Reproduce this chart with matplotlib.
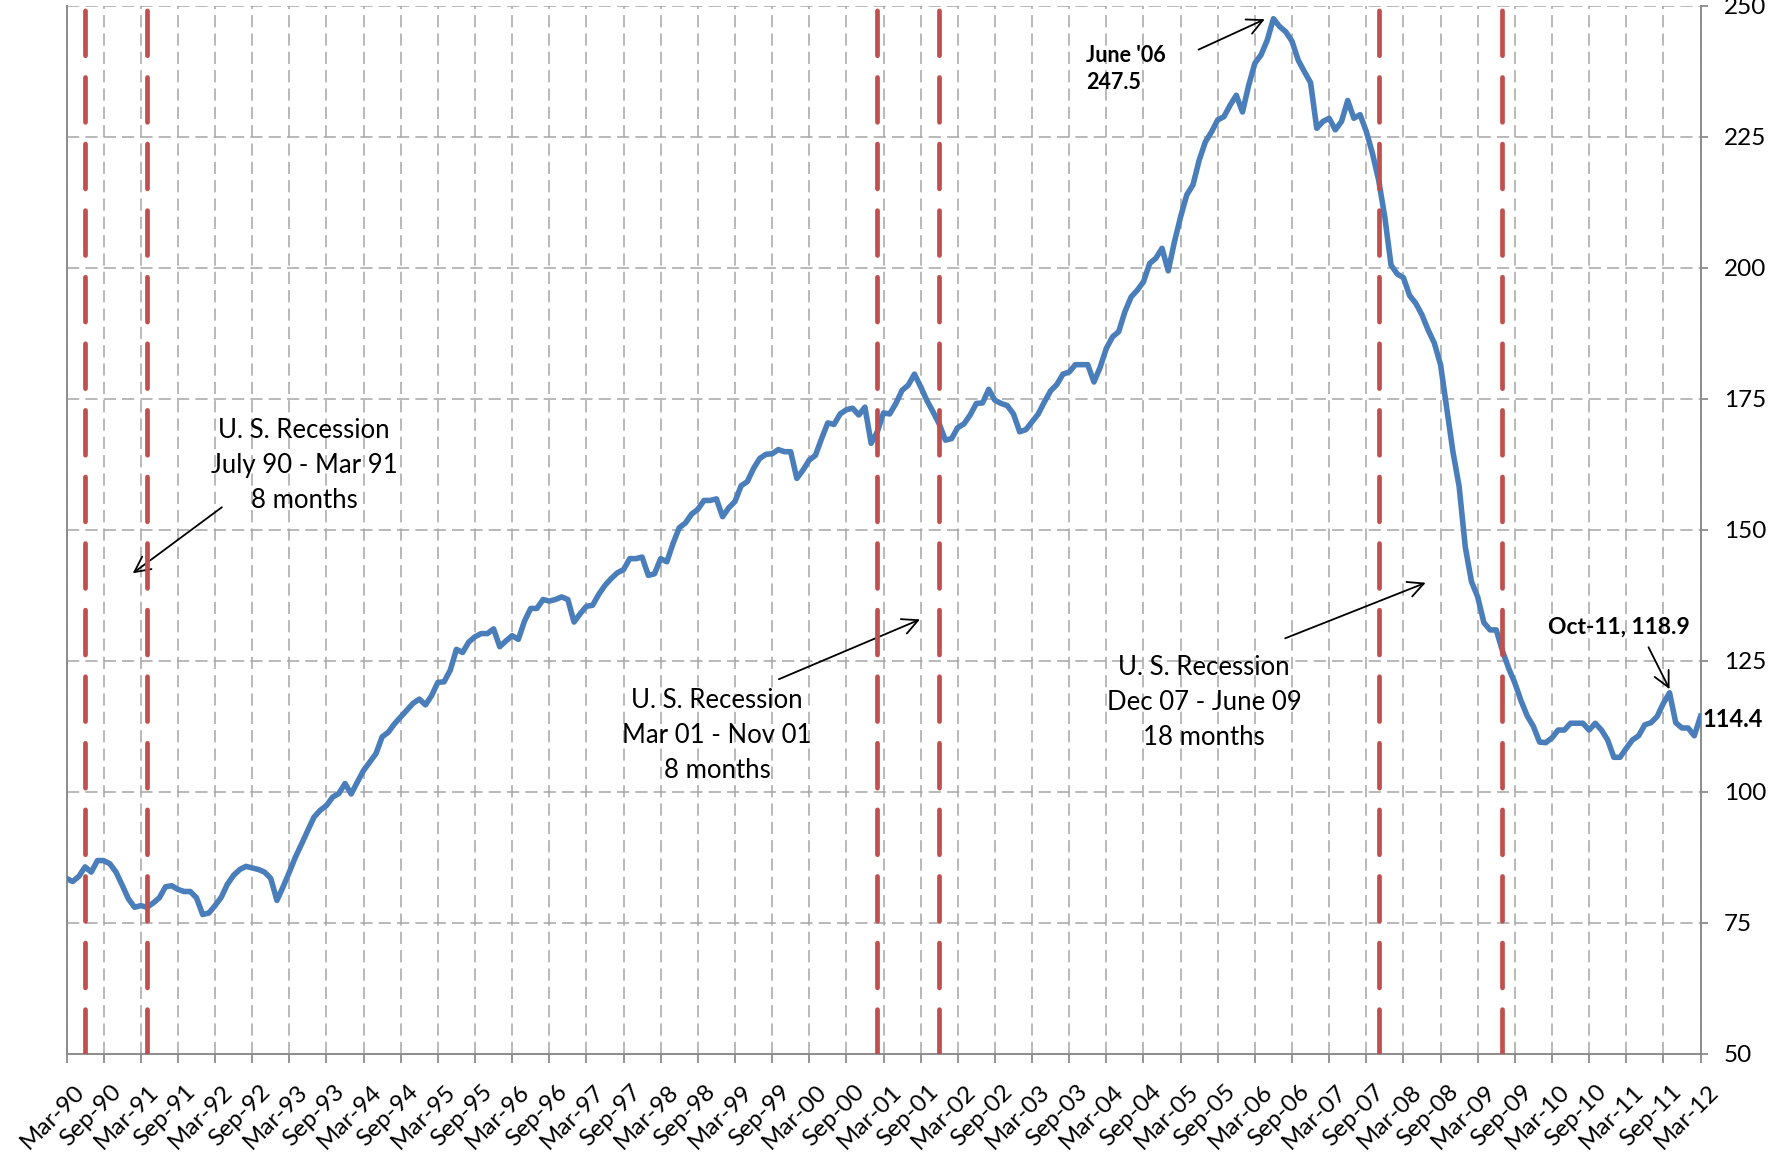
import numpy as np
import pandas as pd
import matplotlib
matplotlib.use("Agg")
import matplotlib.pyplot as plt
from matplotlib.transforms import ScaledTranslation

# monthly index, Mar-90 .. Mar-12
first_month = "1990-03-01"
index_values = [
    83.5, 82.9, 83.9, 85.7, 84.7, 86.9, 86.9, 86.3, 84.7, 82.2,
    79.6, 78.0, 78.3, 78.0, 78.8, 79.8, 81.9, 82.1, 81.4, 81.0,
    81.0, 79.8, 76.6, 76.9, 78.3, 79.9, 82.4, 84.1, 85.2, 85.8,
    85.5, 85.2, 84.7, 83.5, 79.3, 81.9, 84.7, 87.6, 90.1, 92.7,
    95.2, 96.5, 97.4, 99.0, 99.7, 101.6, 99.6, 101.9, 104.1, 105.7,
    107.3, 110.5, 111.4, 113.0, 114.3, 115.6, 116.9, 117.7, 116.6, 118.4,
    120.9, 121.0, 123.2, 127.2, 126.6, 128.6, 129.6, 130.2, 130.2, 131.1,
    127.7, 128.8, 129.8, 129.1, 132.6, 135.0, 135.0, 136.7, 136.4, 136.7,
    137.2, 136.7, 132.4, 134.0, 135.4, 135.6, 137.7, 139.4, 140.7, 141.8,
    142.4, 144.5, 144.5, 144.8, 141.3, 141.6, 144.5, 143.9, 147.4, 150.4,
    151.3, 153.0, 153.9, 155.6, 155.6, 155.9, 152.5, 154.2, 155.4, 158.4,
    159.2, 161.7, 163.6, 164.4, 164.5, 165.3, 164.9, 164.9, 159.8, 161.4,
    163.3, 164.2, 167.4, 170.4, 170.1, 172.1, 172.9, 173.2, 171.9, 173.4,
    166.5, 168.7, 172.3, 172.1, 174.1, 176.6, 177.6, 179.7, 177.3, 174.7,
    172.5, 170.2, 167.1, 167.4, 169.5, 170.2, 171.9, 174.1, 174.2, 176.8,
    174.7, 174.1, 173.7, 172.1, 168.7, 169.1, 170.6, 172.1, 174.4, 176.5,
    177.7, 179.7, 180.1, 181.5, 181.5, 181.5, 178.2, 181.0, 184.6, 186.8,
    187.8, 191.6, 194.4, 195.7, 197.3, 200.8, 201.8, 203.7, 199.4, 204.9,
    209.7, 213.9, 215.8, 220.5, 224.0, 225.9, 228.2, 228.8, 231.0, 232.9,
    229.7, 234.8, 239.0, 240.6, 243.4, 247.5, 246.0, 245.0, 243.2, 239.6,
    237.4, 235.3, 226.6, 227.9, 228.5, 226.3, 227.9, 231.9, 228.5, 229.2,
    226.0, 221.8, 216.7, 209.6, 200.5, 198.8, 198.1, 194.7, 193.2, 191.0,
    188.1, 185.6, 181.5, 173.2, 164.9, 158.3, 146.7, 140.1, 137.2, 132.3,
    130.9, 130.9, 126.9, 123.6, 120.8, 117.4, 114.5, 112.5, 109.5, 109.4,
    110.3, 111.8, 111.8, 113.1, 113.1, 113.1, 111.8, 113.1, 111.8, 109.9,
    106.6, 106.6, 108.3, 109.9, 110.7, 112.8, 113.2, 114.4, 116.9, 118.9,
    113.2, 112.2, 112.2, 110.7, 114.4,
]

tick_labels = [
    "Mar-90", "Sep-90", "Mar-91", "Sep-91", "Mar-92", "Sep-92", "Mar-93", "Sep-93",
    "Mar-94", "Sep-94", "Mar-95", "Sep-95", "Mar-96", "Sep-96", "Mar-97", "Sep-97",
    "Mar-98", "Sep-98", "Mar-99", "Sep-99", "Mar-00", "Sep-00", "Mar-01", "Sep-01",
    "Mar-02", "Sep-02", "Mar-03", "Sep-03", "Mar-04", "Sep-04", "Mar-05", "Sep-05",
    "Mar-06", "Sep-06", "Mar-07", "Sep-07", "Mar-08", "Sep-08", "Mar-09", "Sep-09",
    "Mar-10", "Sep-10", "Mar-11", "Sep-11", "Mar-12",
]
y_ticks = [50, 75, 100, 125, 150, 175, 200, 225, 250]

# dashed red recession markers (as drawn on the chart)
recession_lines = ["Jun-90", "Apr-91", "Feb-01", "Dec-01", "Nov-07", "Jul-09"]

recession_notes = [
    "U. S. Recession\nJuly 90 - Mar 91\n8 months",
    "U. S. Recession\nMar 01 - Nov 01\n8 months",
    "U. S. Recession\nDec 07 - June 09\n18 months",
]
peak_note = "June '06\n247.5"
oct11_note = "Oct-11, 118.9"
last_note = "114.4"

months = pd.date_range(first_month, periods=len(index_values), freq="MS").strftime("%b-%y").tolist()
x = np.arange(len(index_values))

plt.rcParams["font.family"] = ["Lato", "DejaVu Sans"]

W, H = 1768, 1159
fig = plt.figure(figsize=(W / 100, H / 100), dpi=100)
ax = fig.add_axes([66.5 / W, 1 - 1054 / H, (1700.5 - 66.5) / W, (1054 - 5.6) / H])

ax.plot(x, index_values, color="#4A7EBB", lw=4, solid_joinstyle="round", zorder=3)

for m in recession_lines:
    ax.axvline(months.index(m), color="#C0504D", lw=3.4, linestyle=(0, (9.5, 4.6)),
               dash_capstyle="round", zorder=4)

ax.set_xlim(0, len(index_values) - 1)
ax.set_ylim(50, 250)
ax.set_xticks(x[::6])
ax.set_xticklabels(tick_labels, rotation=45, ha="right", va="top", rotation_mode="anchor")
ax.set_yticks(y_ticks)
ax.yaxis.tick_right()

ax.grid(True, color="#A6A6A6", linestyle=(0, (8, 4)), linewidth=1.1, zorder=0)
ax.set_axisbelow(True)

for s in ["left", "right", "bottom"]:
    ax.spines[s].set_color("#8C8C8C")
    ax.spines[s].set_linewidth(1.4)
ax.spines["top"].set_visible(False)

ax.tick_params(axis="x", length=6.5, width=1.3, color="#8C8C8C", labelsize=17.5, pad=13)
ax.tick_params(axis="y", length=5, width=1.3, color="#8C8C8C", labelsize=17.5, pad=12)
off = ScaledTranslation(7 / 100, 0, fig.dpi_scale_trans)
for lab in ax.get_xticklabels():
    lab.set_transform(lab.get_transform() + off)

arrow = dict(arrowstyle="->", color="black", lw=1.3, mutation_scale=28, shrinkA=0, shrinkB=0)
note_style = dict(ha="center", va="center", fontsize=18.5, linespacing=1.5)

# recession notes
ax.text(38.4, 162.3, recession_notes[0], **note_style)
ax.annotate("", xy=(10.7, 141.7), xytext=(25.1, 154.3), arrowprops=arrow)

ax.text(105.1, 110.7, recession_notes[1], **note_style)
ax.annotate("", xy=(137.9, 132.9), xytext=(115.1, 121.5), arrowprops=arrow)

ax.text(183.8, 117.0, recession_notes[2], **note_style)
ax.annotate("", xy=(219.6, 139.9), xytext=(196.9, 129.3), arrowprops=arrow)

# peak
peak_i = int(np.argmax(index_values))
ax.text(164.7, 237.9, peak_note, ha="left", va="center", fontsize=15.5, fontweight="bold", linespacing=1.4)
ax.annotate("", xy=(peak_i - 1.4, index_values[peak_i] - 0.1), xytext=(182.9, 241.6), arrowprops=arrow)

# Oct-11
oct_i = months.index("Oct-11")
ax.text(250.8, 131.4, oct11_note, ha="center", va="center", fontsize=16.5, fontweight="bold")
ax.annotate("", xy=(oct_i, index_values[oct_i] + 0.7), xytext=(255.6, 127.6), arrowprops=arrow)

# last value
ax.text(x[-1] + 0.3, index_values[-1] - 0.5, last_note, ha="left", va="center",
        fontsize=17, fontweight="bold", clip_on=False)

fig.savefig("out.png", dpi=100)
